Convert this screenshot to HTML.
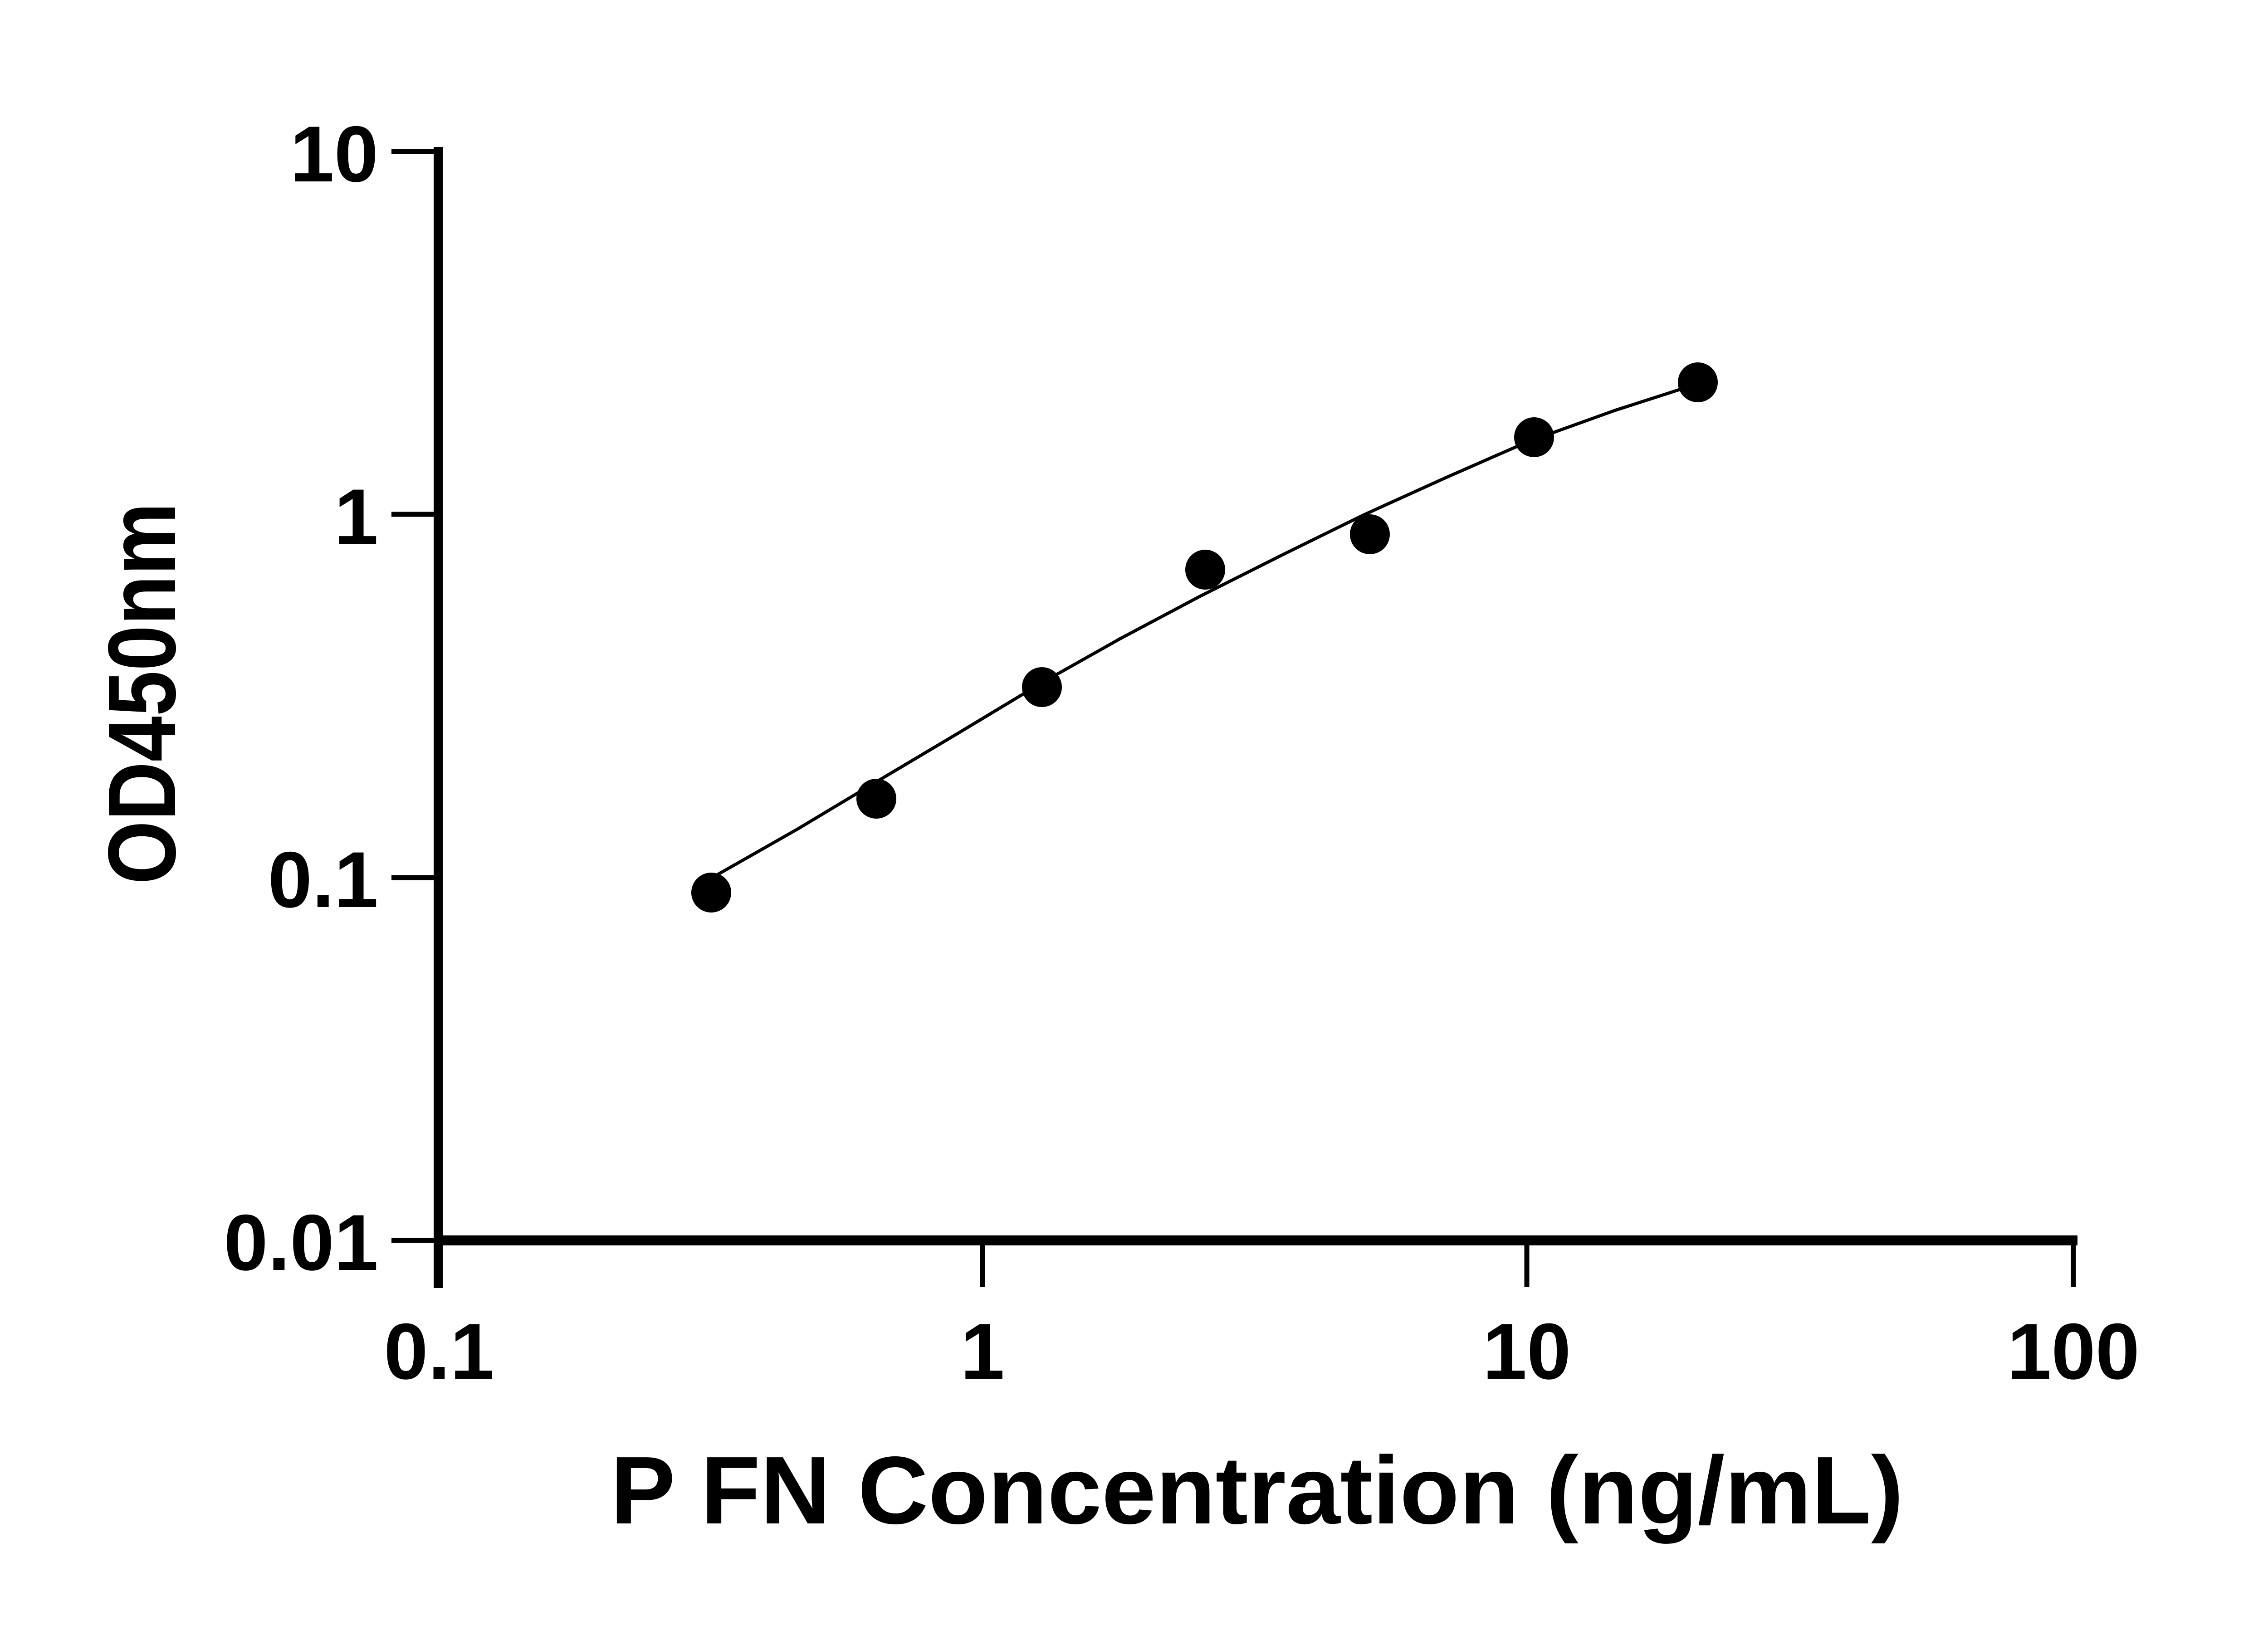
<!DOCTYPE html>
<html><head><meta charset="utf-8"><style>html,body{margin:0;padding:0;background:#fff}</style></head>
<body>
<svg width="5118" height="3600" viewBox="0 0 5118 3600" xmlns="http://www.w3.org/2000/svg">
<rect width="5118" height="3600" fill="#fff"/>
<g stroke="#000" fill="none" stroke-linecap="butt">
<line x1="966" y1="324" x2="966" y2="2840" stroke-width="20"/>
<line x1="956" y1="2735" x2="4580" y2="2735" stroke-width="22"/>
<g stroke-width="11">
<line x1="863" y1="334" x2="966" y2="334"/>
<line x1="863" y1="1134" x2="966" y2="1134"/>
<line x1="863" y1="1935" x2="966" y2="1935"/>
<line x1="863" y1="2735" x2="966" y2="2735"/>
<line x1="2166" y1="2735" x2="2166" y2="2838"/>
<line x1="3366" y1="2735" x2="3366" y2="2838"/>
<line x1="4571" y1="2735" x2="4571" y2="2838"/>
</g>
<polyline stroke-width="7" points="1565,1938 1760,1827 1925,1728 2110,1618 2296,1506 2470,1408 2645,1315 2830,1222 3007,1135 3190,1052 3368,974 3560,905 3743,846"/>
</g>
<g fill="#000">
<circle cx="1568" cy="1968" r="44"/>
<circle cx="1932" cy="1761" r="44"/>
<circle cx="2297" cy="1515" r="44"/>
<circle cx="2657" cy="1256" r="44"/>
<circle cx="3020" cy="1178" r="44"/>
<circle cx="3382" cy="964" r="44"/>
<circle cx="3743" cy="843" r="44"/>
</g>
<g font-family="Liberation Sans, sans-serif" font-weight="bold" font-size="175" fill="#000">
<g text-anchor="end">
<text x="834" y="400">10</text>
<text x="834" y="1200">1</text>
<text x="834" y="2000">0.1</text>
<text x="834" y="2800">0.01</text>
</g>
<g text-anchor="middle">
<text x="968" y="3040">0.1</text>
<text x="2166" y="3040">1</text>
<text x="3366" y="3040">10</text>
<text x="4571" y="3040">100</text>
</g>
<text x="2771" y="3359" text-anchor="middle" font-size="212" textLength="2851" lengthAdjust="spacingAndGlyphs">P FN Concentration (ng/mL)</text>
<text transform="translate(386,1529) rotate(-90)" text-anchor="middle" font-size="212" textLength="842" lengthAdjust="spacingAndGlyphs">OD450nm</text>
</g>
</svg>
</body></html>
